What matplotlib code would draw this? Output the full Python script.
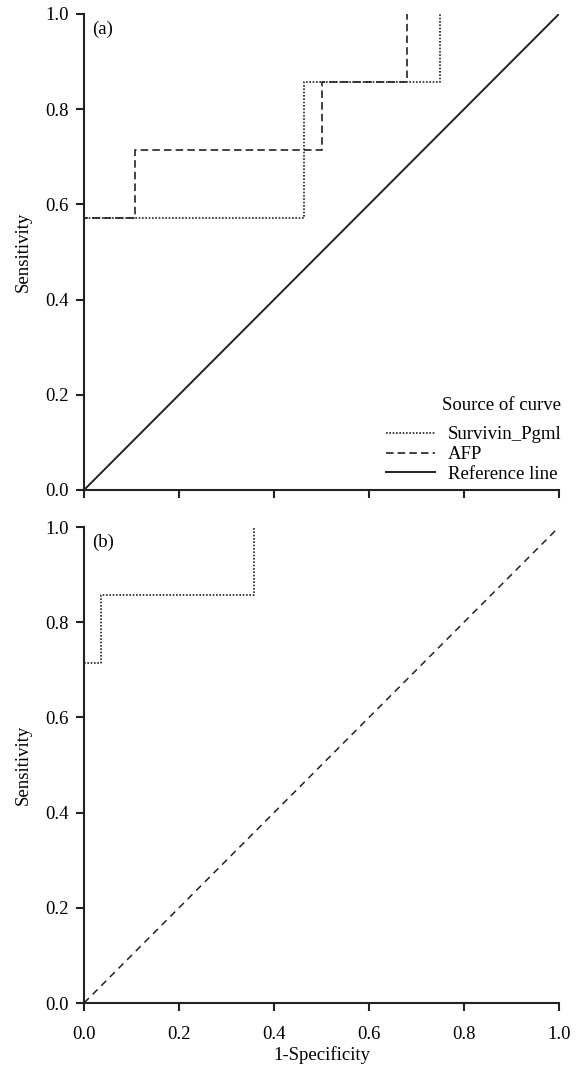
import matplotlib
matplotlib.use('Agg')
import matplotlib.pyplot as plt

plt.rcParams['font.family'] = ['Liberation Serif', 'DejaVu Serif']

# 数据 (a)
surv_a_x = [0, 0, 0.464, 0.464, 0.75, 0.75]
surv_a_y = [0, 0.571, 0.571, 0.857, 0.857, 1.0]
afp_a_x = [0, 0, 0.107, 0.107, 0.5, 0.5, 0.679, 0.679]
afp_a_y = [0, 0.571, 0.571, 0.714, 0.714, 0.857, 0.857, 1.0]
ref_x = [0, 1]
ref_y = [0, 1]

# 数据 (b)
surv_b_x = [0, 0, 0.036, 0.036, 0.357, 0.357]
surv_b_y = [0, 0.714, 0.714, 0.857, 0.857, 1.0]

ticks = [0.0, 0.2, 0.4, 0.6, 0.8, 1.0]
tick_labels = ['0.0', '0.2', '0.4', '0.6', '0.8', '1.0']

fs = 13.5
fig = plt.figure(figsize=(5.79, 10.68), dpi=100)
ax1 = fig.add_axes([84 / 579, 1 - 490 / 1068, 475 / 579, 476 / 1068])
ax2 = fig.add_axes([84 / 579, 1 - 1003 / 1068, 475 / 579, 476 / 1068])

c = '#222222'
ax1.plot(surv_a_x, surv_a_y, color=c, lw=1.2, linestyle=(0, (1.0, 1.0)), label='Survivin_Pgml')
ax1.plot(afp_a_x, afp_a_y, color=c, lw=1.2, linestyle=(0, (4.5, 2.5)), label='AFP')
ax1.plot(ref_x, ref_y, color=c, lw=1.4, label='Reference line')

ax2.plot(surv_b_x, surv_b_y, color=c, lw=1.2, linestyle=(0, (1.0, 1.0)))
ax2.plot(ref_x, ref_y, color=c, lw=1.1, linestyle=(0, (4.5, 3.5)))

for ax, tag in [(ax1, '(a)'), (ax2, '(b)')]:
    ax.set_xlim(0, 1)
    ax.set_ylim(0, 1)
    ax.spines['top'].set_visible(False)
    ax.spines['right'].set_visible(False)
    for s in ['left', 'bottom']:
        ax.spines[s].set_linewidth(1.5)
        ax.spines[s].set_color(c)
    ax.set_xticks(ticks)
    ax.set_yticks(ticks)
    ax.set_yticklabels(tick_labels, fontsize=fs)
    ax.tick_params(direction='out', length=6, width=1.5, color=c, labelsize=fs)
    ax.tick_params(axis='y', pad=5)
    ax.tick_params(axis='x', pad=10.5)
    ax.set_ylabel('Sensitivity', fontsize=fs, labelpad=10)
    ax.text(0.017, 0.985, tag, transform=ax.transAxes, fontsize=fs, ha='left', va='top')

ax1.set_xticklabels([])
ax2.set_xticklabels(tick_labels, fontsize=fs)
ax2.set_xlabel('1-Specificity', fontsize=fs, labelpad=2)

leg = ax1.legend(loc='lower right', bbox_to_anchor=(1.005, 0.015), frameon=False, fontsize=fs,
                 title='Source of curve', title_fontsize=fs, handlelength=2.6,
                 handletextpad=0.7, labelspacing=0.14, borderaxespad=0, borderpad=0)
leg._legend_box.align = 'right'
leg._legend_box.sep = 9

fig.savefig('out.png', dpi=100)
